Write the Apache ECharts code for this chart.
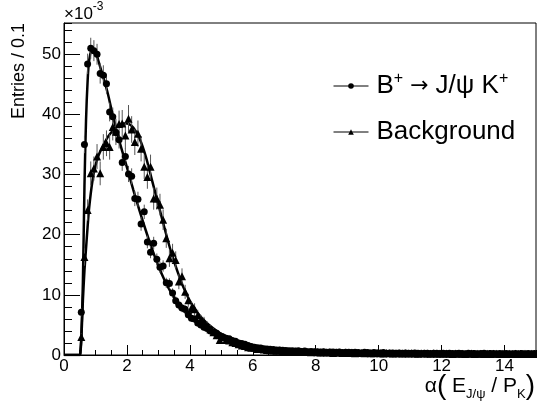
<!DOCTYPE html>
<html><head><meta charset="utf-8">
<script src="https://cdn.jsdelivr.net/npm/echarts@6/dist/echarts.min.js"></script>
<style>html,body{margin:0;padding:0;background:#fff}#c{width:537px;height:402px}</style>
</head><body><div id="c"></div>
<script>
// Histogram binning (bin width 0.1 from 0 to 15)
const binStart = 0, binWidth = 0.1;
// Units: 10^-3 entries per 0.1
const signalValues = [
  null, null, null, null, null, 7.1, 35.0, 48.4, 51.0, 50.6,
  50.0, 46.8, 46.5, 45.1, 40.4, 39.6, 37.0, 35.8, 32.0, 33.0,
  30.1, 29.7, 26.0, 25.9, 21.8, 23.8, 18.8, 17.1, 18.6, 15.9,
  14.6, 14.8, 12.0, 11.9, 10.3, 9.0, 8.3, 7.8, 7.6, 6.7,
  6.1, 6.0, 5.3, 5.0, 4.6, 4.4, 4.0, 3.8, 3.6, 3.2,
  3.0, 2.8, 2.7, 2.4, 2.3, 2.0, 1.9, 1.8, 1.6, 1.4,
  1.3, 1.2, 1.15, 1.05, 1.0, 0.95, 0.9, 0.85, 0.85, 0.8,
  0.75, 0.7, 0.7, 0.65, 0.7, 0.6, 0.65, 0.55, 0.6, 0.55,
  0.55, 0.5, 0.55, 0.45, 0.5, 0.5, 0.45, 0.5, 0.4, 0.45,
  0.45, 0.4, 0.45, 0.4, 0.35, 0.45, 0.4, 0.35, 0.4, 0.35,
  0.35, 0.4, 0.3, 0.35, 0.35, 0.3, 0.35, 0.3, 0.35, 0.3,
  0.3, 0.35, 0.3, 0.25, 0.3, 0.3, 0.25, 0.3, 0.3, 0.25,
  0.3, 0.25, 0.3, 0.25, 0.25, 0.3, 0.25, 0.2, 0.3, 0.25,
  0.25, 0.2, 0.25, 0.3, 0.2, 0.25, 0.25, 0.2, 0.25, 0.2,
  0.25, 0.2, 0.2, 0.25, 0.2, 0.25, 0.2, 0.25, 0.2, 0.25
];
const backgroundValues = [
  null, null, null, null, null, 3.0, 16.3, 24.1, 30.2, 31.0,
  33.0, 30.2, 34.6, 35.2, 34.6, 37.9, 37.1, 38.4, 38.5, 36.5,
  39.3, 37.5, 35.4, 36.8, 34.3, 31.3, 29.6, 31.3, 26.0, 26.0,
  25.0, 22.5, 19.4, 16.1, 17.0, 15.8, 12.2, 13.1, 10.5, 9.1,
  7.8, 7.6, 6.6, 5.8, 5.5, 4.8, 4.3, 3.8, 3.3, 2.5,
  3.0, 2.5, 2.4, 2.1, 2.0, 1.8, 1.6, 1.5, 1.3, 1.2,
  1.2, 1.0, 1.05, 0.9, 0.85, 0.8, 0.75, 0.7, 0.75, 0.6,
  0.65, 0.6, 0.55, 0.6, 0.5, 0.55, 0.5, 0.5, 0.45, 0.5,
  0.45, 0.4, 0.45, 0.4, 0.45, 0.35, 0.4, 0.4, 0.35, 0.4,
  0.35, 0.4, 0.3, 0.35, 0.35, 0.3, 0.35, 0.3, 0.3, 0.35,
  0.3, 0.25, 0.35, 0.3, 0.25, 0.3, 0.3, 0.25, 0.3, 0.25,
  0.3, 0.25, 0.2, 0.3, 0.25, 0.25, 0.2, 0.3, 0.2, 0.25,
  0.2, 0.25, 0.2, 0.15, 0.25, 0.2, 0.2, 0.15, 0.2, 0.25,
  0.15, 0.2, 0.2, 0.15, 0.2, 0.15, 0.2, 0.2, 0.15, 0.2,
  0.15, 0.2, 0.15, 0.2, 0.15, 0.15, 0.2, 0.15, 0.2, 0.15
];
// Poisson weight per entry (10^-3 units) used for the statistical error bars
const signalWeight = 0.06, backgroundWeight = 0.13;
// Fitted curves
const fitX = [0, 0.5, 0.52, 0.55, 0.6, 0.65, 0.7, 0.75, 0.8, 0.9, 1.0, 1.1, 1.2, 1.3, 1.4, 1.5, 1.6, 1.7, 1.8, 1.9, 2.0, 2.2, 2.4, 2.6, 2.8, 3.0, 3.2, 3.4, 3.6, 3.8, 4.0, 4.25, 4.5, 4.75, 5.0, 5.5, 6.0, 6.5, 7.0, 8.0, 9.0, 10, 11, 12, 13, 14, 15];
const signalFit = [0, 0, 0.5, 3, 12, 28, 39, 45.5, 49, 51, 50.4, 48.8, 47, 45.3, 43.3, 41, 38.8, 36.7, 34.8, 33, 31.2, 27.5, 24, 20.7, 17.6, 14.8, 12.4, 10.4, 8.8, 7.4, 6.3, 5.2, 4.3, 3.6, 3.0, 2.2, 1.6, 1.2, 0.9, 0.6, 0.45, 0.35, 0.3, 0.27, 0.25, 0.23, 0.22];
const backgroundFit = [0, 0, 0.3, 2.5, 9, 14, 17.7, 21.3, 24.5, 28.8, 31.5, 33.2, 34.4, 35.4, 36.3, 37, 37.6, 38.1, 38.4, 38.5, 38.5, 37.8, 36, 33, 29, 25, 21, 17.2, 14, 11.2, 9, 7, 5.5, 4.4, 3.5, 2.3, 1.5, 1.05, 0.75, 0.5, 0.4, 0.32, 0.28, 0.25, 0.23, 0.22, 0.2];
const xMin = 0, xMax = 15, xMajor = 2, xMinor = 0.5;
const yMin = 0, yMax = 55.2, yMajor = 10, yMinor = 2;
const signalName = 'B⁺ → J/ψ K⁺', backgroundName = 'Background';

const FONT = '"Liberation Sans", Arial, Helvetica, sans-serif';
function points(vals) {
  const out = [];
  vals.forEach((v, i) => { if (v !== null) out.push([binStart + (i + 0.5) * binWidth, v]); });
  return out;
}
function errors(vals, w) {
  const out = [];
  vals.forEach((v, i) => { if (v !== null) { const e = Math.sqrt(v * w); out.push([binStart + (i + 0.5) * binWidth, v - e, v + e]); } });
  return out;
}
function curve(ys) { return fitX.map((x, i) => [x, ys[i]]); }
function errRender(params, api) {
  const p1 = api.coord([api.value(0), api.value(1)]);
  const p2 = api.coord([api.value(0), api.value(2)]);
  return { type: 'line', shape: { x1: p1[0], y1: p1[1], x2: p2[0], y2: p2[1] }, style: { stroke: '#555', lineWidth: 1 } };
}

const chart = echarts.init(document.getElementById('c'), null, { renderer: 'canvas' });
chart.setOption({
  animation: false,
  backgroundColor: '#fff',
  grid: { left: 64, right: 1, top: 23, bottom: 47, show: true, borderColor: '#000', borderWidth: 1 },
  xAxis: [
    { type: 'value', min: xMin, max: xMax, interval: xMajor, splitLine: { show: false },
      axisLine: { show: true, lineStyle: { color: '#000', width: 1 } },
      axisTick: { show: true, inside: true, length: 10, lineStyle: { color: '#000' } },
      axisLabel: { show: true, color: '#000', fontSize: 17, fontFamily: FONT, margin: 3, showMaxLabel: false } },
    { type: 'value', min: xMin, max: xMax, interval: xMinor, position: 'bottom', splitLine: { show: false },
      axisLine: { show: false },
      axisTick: { show: true, inside: true, length: 5, lineStyle: { color: '#000' } },
      axisLabel: { show: false } }
  ],
  yAxis: [
    { type: 'value', min: yMin, max: yMax, interval: yMajor, splitLine: { show: false },
      axisLine: { show: true, lineStyle: { color: '#000', width: 1 } },
      axisTick: { show: true, inside: true, length: 16, lineStyle: { color: '#000' } },
      axisLabel: { show: true, color: '#000', fontSize: 17, fontFamily: FONT, margin: 3, showMaxLabel: false } },
    { type: 'value', min: yMin, max: yMax, interval: yMinor, position: 'left', splitLine: { show: false },
      axisLine: { show: false },
      axisTick: { show: true, inside: true, length: 8, lineStyle: { color: '#000' } },
      axisLabel: { show: false } }
  ],
  legend: {
    data: [signalName, backgroundName], orient: 'vertical', left: 333, top: 71, padding: 0,
    itemWidth: 35, itemHeight: 7, itemGap: 20, selectedMode: false,
    lineStyle: { width: 1, color: '#000', opacity: 1 },
    itemStyle: { color: '#000' },
    textStyle: { fontFamily: FONT, color: '#000', padding: [0, 0, 0, 3],
      rich: {
        n: { fontSize: 26, lineHeight: 30, fontFamily: FONT, color: '#000' },
        r: { fontSize: 22, lineHeight: 30, fontFamily: '"DejaVu Sans", sans-serif', color: '#000' },
        s: { fontSize: 16, lineHeight: 14, verticalAlign: 'top', fontFamily: FONT, color: '#000' }
      } },
    formatter: name => name === signalName ? '{n|B}{s|+}{r| → }{n|J/ψ K}{s|+}' : '{n|Background}'
  },
  graphic: [
    { type: 'text', x: 64, y: 1, style: { text: '{a|×10}{b|-3}', fill: '#000',
      rich: { a: { fontSize: 17, fontFamily: FONT, lineHeight: 22, verticalAlign: 'bottom' },
              b: { fontSize: 12, fontFamily: FONT, lineHeight: 12, verticalAlign: 'top' } } } },
    { type: 'text', x: 19, y: 23, rotation: Math.PI / 2,
      style: { text: 'Entries / 0.1', fill: '#000', font: '18px ' + FONT, align: 'right', verticalAlign: 'middle' } },
    { type: 'text', x: 535, y: 401, style: { text: '{a|α}{p|(}{a| E}{s|J/ψ}{a| / P}{s|K}{p|)}', fill: '#000', align: 'right', verticalAlign: 'bottom',
      rich: { a: { fontSize: 21, fontFamily: FONT, lineHeight: 30 },
              p: { fontSize: 28, fontFamily: FONT, lineHeight: 30 },
              s: { fontSize: 13, fontFamily: FONT, lineHeight: 18, verticalAlign: 'bottom' } } } }
  ],
  series: [
    { name: signalName + ' fit', type: 'line', data: curve(signalFit), smooth: 0.3, showSymbol: false, silent: true,
      lineStyle: { color: '#000', width: 2.5 }, z: 2 },
    { name: backgroundName + ' fit', type: 'line', data: curve(backgroundFit), smooth: 0.3, showSymbol: false, silent: true,
      lineStyle: { color: '#000', width: 2.5 }, z: 2 },
    { name: 'sigErr', type: 'custom', renderItem: errRender, data: errors(signalValues, signalWeight), encode: { x: 0, y: [1, 2] }, z: 3, silent: true },
    { name: 'bgErr', type: 'custom', renderItem: errRender, data: errors(backgroundValues, backgroundWeight), encode: { x: 0, y: [1, 2] }, z: 3, silent: true },
    { name: signalName, type: 'line', data: points(signalValues), symbol: 'circle', symbolSize: 7, showSymbol: true,
      itemStyle: { color: '#000' }, lineStyle: { width: 0, opacity: 0 }, z: 4, silent: true },
    { name: backgroundName, type: 'line', data: points(backgroundValues), symbol: 'triangle', symbolSize: 8, showSymbol: true,
      itemStyle: { color: '#000' }, lineStyle: { width: 0, opacity: 0 }, z: 4, silent: true }
  ]
});
</script></body></html>
